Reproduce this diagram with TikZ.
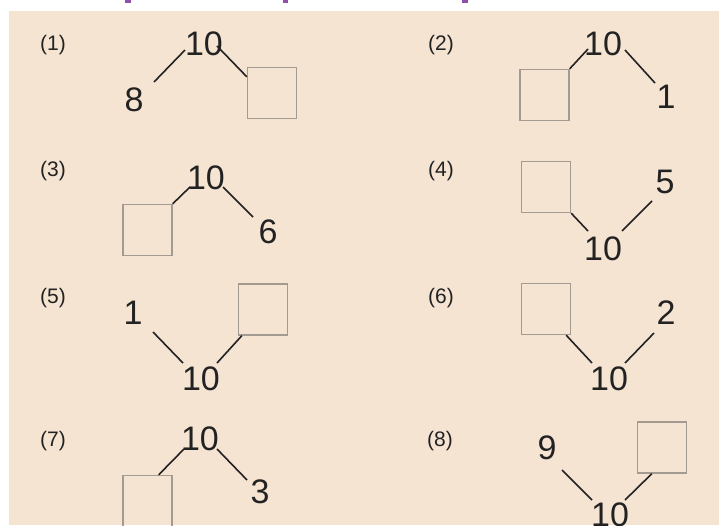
\documentclass[tikz,border=0pt]{standalone}
\usepackage{fontspec}
\setmainfont{Liberation Sans}
\usetikzlibrary{calc}
\definecolor{bg}{HTML}{F5E4D2}
\definecolor{boxgray}{HTML}{A39A92}
\definecolor{ink}{HTML}{222222}
\definecolor{purp}{HTML}{8E4FA8}
\begin{document}
\begin{tikzpicture}[x=1pt,y=-1pt,
  num/.style={inner sep=0pt,font=\fontsize{34}{34}\selectfont,text=ink},
  lab/.style={inner sep=0pt,font=\fontsize{21}{21}\selectfont,text=ink},
  sq/.style={draw=boxgray,line width=1.4pt,inner sep=0pt,minimum width=49pt,minimum height=51pt},
  conn/.style={draw=ink,line width=1.6pt}]
\useasboundingbox (0,0) rectangle (719,525);
\clip (0,0) rectangle (719,525);
\fill[white] (0,0) rectangle (719,525);
\fill[bg] (9,11) rectangle (719,525);
% fragments of the cut-off purple heading
\fill[purp] (125,0) rectangle (131,3);
\fill[purp] (283,0) rectangle (288,3);
\fill[purp] (462,0) rectangle (468,3);

% labels
\node[lab] (l1) at (53,45) {(1)};
\node[lab] (l2) at (441,45) {(2)};
\node[lab] (l3) at (53,171) {(3)};
\node[lab] (l4) at (441,171) {(4)};
\node[lab] (l5) at (53,298) {(5)};
\node[lab] (l6) at (441,298) {(6)};
\node[lab] (l7) at (53,441) {(7)};
\node[lab] (l8) at (440,441) {(8)};

% panel 1
\node[num] (t1) at (204,44) {10};
\node[num] (a1) at (134,100) {8};
\node[sq] (b1) at (272,93) {};
\coordinate (p1a) at (154,82);
\coordinate (p1b) at (185,50);
\coordinate (p1c) at (217,46);
\draw[conn] (p1a) -- (p1b);
\draw[conn] (p1c) -- ($(b1.north west)+(0,10)$);

% panel 2
\node[num] (t2) at (603,44) {10};
\node[sq] (b2) at (544.5,95) {};
\node[num] (a2) at (666,97) {1};
\coordinate (p2a) at (588,49);
\coordinate (p2b) at (625,50);
\coordinate (p2c) at (655,83);
\draw[conn] (b2.north east) -- (p2a);
\draw[conn] (p2b) -- (p2c);

% panel 3
\node[num] (t3) at (206,178) {10};
\node[sq] (b3) at (147.5,230) {};
\node[num] (a3) at (268,232) {6};
\coordinate (p3a) at (190,187);
\coordinate (p3b) at (223,187);
\coordinate (p3c) at (253,217);
\draw[conn] (b3.north east) -- (p3a);
\draw[conn] (p3b) -- (p3c);

% panel 4
\node[sq] (b4) at (546,187) {};
\node[num] (t4) at (603,249) {10};
\node[num] (a4) at (665,182) {5};
\coordinate (p4a) at (588,231);
\coordinate (p4b) at (622,231);
\coordinate (p4c) at (652,201);
\draw[conn] (b4.south east) -- (p4a);
\draw[conn] (p4b) -- (p4c);

% panel 5
\node[num] (a5) at (133,313) {1};
\node[num] (t5) at (201,379) {10};
\node[sq] (b5) at (263,309.5) {};
\coordinate (p5a) at (153,332);
\coordinate (p5b) at (183,363);
\coordinate (p5c) at (217,363);
\draw[conn] (p5a) -- (p5b);
\draw[conn] (p5c) -- ($(b5.south west)+(4,0)$);

% panel 6
\node[sq] (b6) at (546,309) {};
\node[num] (t6) at (609,379) {10};
\node[num] (a6) at (666,313) {2};
\coordinate (p6a) at (592,363);
\coordinate (p6b) at (625,363);
\coordinate (p6c) at (654,333);
\draw[conn] ($(b6.south east)+(-5,0)$) -- (p6a);
\draw[conn] (p6b) -- (p6c);

% panel 7
\node[num] (t7) at (200,439) {10};
\node[sq] (b7) at (147.5,501) {};
\node[num] (a7) at (260,492) {3};
\coordinate (p7a) at (184,449);
\coordinate (p7b) at (217,449);
\coordinate (p7c) at (247,480);
\draw[conn] ($(b7.north east)+(-14,0)$) -- (p7a);
\draw[conn] (p7b) -- (p7c);

% panel 8
\node[num] (a8) at (547,448) {9};
\node[num] (t8) at (610,514.5) {10};
\node[sq] (b8) at (662,447.5) {};
\coordinate (p8a) at (562,470);
\coordinate (p8b) at (592,500);
\coordinate (p8c) at (625,500);
\draw[conn] (p8a) -- (p8b);
\draw[conn] (p8c) -- ($(b8.south west)+(15,0)$);
\end{tikzpicture}
\end{document}
